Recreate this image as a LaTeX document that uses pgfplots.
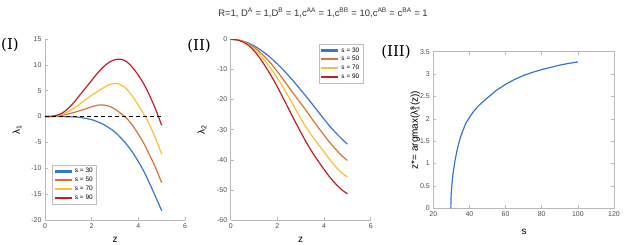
\documentclass[border=0pt]{standalone}
\usepackage{fontspec}
\setmainfont{Liberation Sans}
\newfontfamily\panelfont{DejaVu Serif}
\usepackage{pgfplots}
\usepackage{pgfplotstable}
\pgfplotsset{compat=1.18}

\definecolor{mblue}{RGB}{52,118,214}
\definecolor{morange}{RGB}{218,115,50}
\definecolor{myellow}{RGB}{250,192,50}
\definecolor{mred}{RGB}{196,28,36}

\pgfplotstableread{
z     b       o       y       r
0     0       0       0       0
0.25  0       0.01    0.02    0.03
0.5   0       0.08    0.15    0.25
0.75 -0.01    0.25    0.45    0.7
1    -0.03    0.5     0.95    1.6
1.25 -0.07    0.8     1.65    2.8
1.5  -0.15    1.15    2.45    4.2
1.75 -0.35    1.5     3.3     5.6
2    -0.6     1.9     4.1     7.0
2.25 -1.0     2.2     4.85    8.4
2.5  -1.5     2.25    5.55    9.6
2.75 -2.2     2.0     6.15    10.5
3    -3.0     1.45    6.4     11.0
3.25 -4.1     0.6     6.15    11.1
3.5  -5.4    -0.35    5.3     10.6
3.75 -6.9    -1.7     3.9     9.5
4    -8.7    -3.4     2.2     8.0
4.25 -10.7   -5.3     0.35    6.2
4.5  -13.1   -7.6    -1.75    3.9
4.75 -15.6   -10.0   -4.3     1.3
5    -18.2   -12.8   -7.3    -1.7
}\lamone

\pgfplotstableread{
z     b       o       y       r
0     0       0       0       0
0.25 -0.14   -0.15   -0.16   -0.17
0.5  -0.55   -0.63   -0.70   -0.80
0.75 -1.23   -1.49   -1.69   -1.94
1    -2.17   -2.70   -3.15   -3.80
1.25 -3.37   -4.24   -5.09   -6.24
1.5  -4.80   -6.10   -7.40   -9.15
1.75 -6.39   -8.24  -10.04  -12.34
2    -8.20  -10.70  -12.90  -15.80
2.25 -10.14 -13.34  -15.99  -19.54
2.5  -12.25 -16.00  -19.30  -23.35
2.75 -14.44 -18.64  -22.79  -27.14
3    -16.80 -21.25  -26.20  -30.80
3.25 -19.14 -23.84  -29.39  -34.34
3.5  -21.55 -26.60  -32.25  -37.55
3.75 -24.04 -29.24  -34.84  -40.44
4    -26.50 -31.80  -37.40  -43.20
4.25 -28.90 -34.30  -39.95  -45.80
4.5  -31.00 -36.50  -42.35  -48.00
4.75 -33.00 -38.60  -44.30  -49.90
5    -34.80 -40.20  -45.70  -51.30
}\lamtwo

\pgfplotstableread{
s     zs
29.7  0
29.8  0.22
30    0.38
30.5  0.62
31    0.8
32    1.06
33    1.27
34    1.44
35    1.58
36    1.7
38    1.9
40    2.03
42    2.15
45    2.29
48    2.40
50    2.47
55    2.64
60    2.77
65    2.88
70    2.97
75    3.04
80    3.10
85    3.15
90    3.20
95    3.24
100   3.27
}\zstar

\pgfplotsset{
  mstyle/.style={
    scale only axis,
    axis line style={draw=gray!55, line width=0.5pt},
    tick style={draw=gray!55, line width=0.5pt},
    major tick length=3bp,
    tick align=inside,
    ticklabel style={font=\fontsize{7}{8}\selectfont, text=black!70},
    /pgf/number format/assume math mode=true,
    label style={font=\fontsize{8}{9}\selectfont, text=black!70},
    legend image post style={line width=2.2pt},
    legend style={font=\fontsize{6.5}{7.5}\selectfont, draw=gray!50, fill=white,
      inner xsep=1.5bp, inner ysep=1bp, row sep=-1.2bp, cells={anchor=west}},
  },
  lw/.style={line width=1.2pt, smooth},
}

\begin{document}
\begin{tikzpicture}
\useasboundingbox (0,0) rectangle (637bp,245bp);

\node[font=\fontsize{9.5}{11}\selectfont, text=black!80] at (323bp,232bp)
  {R=1, D\textsuperscript{A} = 1,D\textsuperscript{B} = 1,c\textsuperscript{AA} = 1,c\textsuperscript{BB} = 10,c\textsuperscript{AB} = c\textsuperscript{BA} = 1};

\node[font=\panelfont\fontsize{15}{17}\selectfont] at (10bp,200bp) {(I)};
\node[font=\panelfont\fontsize{15}{17}\selectfont] at (199bp,199bp) {(II)};
\node[font=\panelfont\fontsize{15}{17}\selectfont] at (396bp,193bp) {(III)};

% Panel I
\begin{axis}[mstyle, at={(45bp,25bp)}, anchor=south west, width=140bp, height=181bp,
  xmin=0, xmax=6, ymin=-20, ymax=15,
  xtick={0,2,4,6}, ytick={-20,-15,-10,-5,0,5,10,15},
  axis x line*=bottom, axis y line*=left,
  xlabel={z}, ylabel={λ\textsubscript{1}},
  every axis x label/.style={at={(axis description cs:0.5,-0.11)}, anchor=center},
  every axis y label/.style={at={(axis description cs:-0.2,0.5)}, rotate=90, anchor=center},
  legend style={at={(0.05,0.088)}, anchor=south west}]
\addplot[color=mblue, lw] table[x=z, y=b] {\lamone};
\addplot[color=morange, lw] table[x=z, y=o] {\lamone};
\addplot[color=myellow, lw] table[x=z, y=y] {\lamone};
\addplot[color=mred, lw] table[x=z, y=r] {\lamone};
\addplot[black, line width=0.9pt, dash pattern=on 4bp off 3bp, forget plot] coordinates {(0,0) (5,0)};
\legend{s = 30, s = 50, s = 70, s = 90}
\end{axis}

% Panel II
\begin{axis}[mstyle, at={(230.7bp,25bp)}, anchor=south west, width=140bp, height=180.7bp,
  xmin=0, xmax=6, ymin=-60, ymax=0,
  xtick={0,2,4,6}, ytick={-60,-50,-40,-30,-20,-10,0},
  axis x line*=bottom, axis y line*=left,
  xlabel={z}, ylabel={λ\textsubscript{2}},
  every axis x label/.style={at={(axis description cs:0.5,-0.11)}, anchor=center},
  every axis y label/.style={at={(axis description cs:-0.205,0.5)}, rotate=90, anchor=center},
  legend style={at={(0.945,0.972)}, anchor=north east}]
\addplot[color=mblue, lw] table[x=z, y=b] {\lamtwo};
\addplot[color=morange, lw] table[x=z, y=o] {\lamtwo};
\addplot[color=myellow, lw] table[x=z, y=y] {\lamtwo};
\addplot[color=mred, lw] table[x=z, y=r] {\lamtwo};
\legend{s = 30, s = 50, s = 70, s = 90}
\end{axis}

% Panel III
\begin{axis}[mstyle, at={(433.3bp,36.7bp)}, anchor=south west, width=180.7bp, height=156.6bp,
  xmin=20, xmax=120, ymin=0, ymax=3.5,
  xtick={20,40,60,80,100,120}, ytick={0,0.5,1,1.5,2,2.5,3,3.5},
  yticklabels={0,0.5,1,1.5,2,2.5,3,3.5},
  xlabel={s}, ylabel={z*= argmax(λ\rlap{\textsubscript{1}}\textsuperscript{\textbf{s}}(z))},
  every axis x label/.style={at={(axis description cs:0.502,-0.151)}, anchor=center},
  every axis y label/.style={at={(axis description cs:-0.10,0.5)}, rotate=90, anchor=center,
    font=\fontsize{10}{11}\selectfont}]
\addplot[color=mblue, line width=1.2pt] table[x=s, y=zs] {\zstar};
\end{axis}
\end{tikzpicture}
\end{document}
